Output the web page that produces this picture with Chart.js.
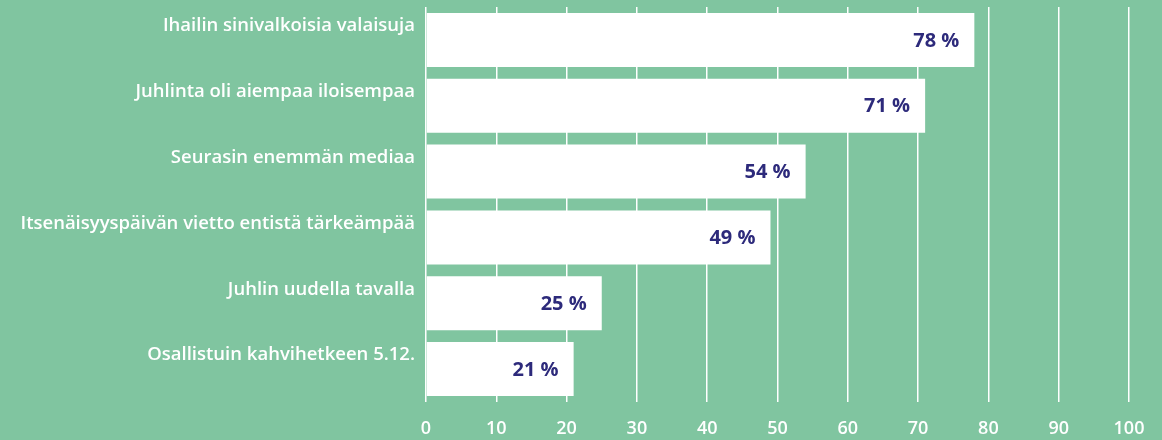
<!DOCTYPE html>
<html>
<head>
<meta charset="utf-8">
<script src="https://cdn.jsdelivr.net/npm/chart.js@4"></script>
<style>
html,body{margin:0;padding:0;background:#80c5a0;}
#wrap{width:1162px;height:440px;position:relative;}
</style>
</head>
<body>
<div id="wrap"><canvas id="c" width="1162" height="440"></canvas></div>
<script>
const categories = [
  "Ihailin sinivalkoisia valaisuja",
  "Juhlinta oli aiempaa iloisempaa",
  "Seurasin enemmän mediaa",
  "Itsenäisyyspäivän vietto entistä tärkeämpää",
  "Juhlin uudella tavalla",
  "Osallistuin kahvihetkeen 5.12."
];
const values = [78, 71, 54, 49, 25, 21];
const xTicks = [0, 10, 20, 30, 40, 50, 60, 70, 80, 90, 100];

const valueLabels = {
  id: 'valueLabels',
  afterDatasetsDraw(chart) {
    const ctx = chart.ctx;
    const meta = chart.getDatasetMeta(0);
    ctx.save();
    ctx.fillStyle = '#2d2a7b';
    ctx.font = '700 20px "Open Sans", sans-serif';
    ctx.textAlign = 'right';
    ctx.textBaseline = 'middle';
    meta.data.forEach((bar, i) => {
      ctx.fillText(values[i] + ' %', bar.x - 15, bar.y + 1);
    });
    ctx.restore();
  }
};

new Chart(document.getElementById('c'), {
  type: 'bar',
  data: {
    labels: categories,
    datasets: [{
      data: values,
      backgroundColor: '#ffffff',
      borderWidth: 0,
      categoryPercentage: 1,
      barPercentage: 0.82
    }]
  },
  options: {
    indexAxis: 'y',
    responsive: false,
    animation: false,
    devicePixelRatio: 1,
    layout: { padding: { top: 7, right: 33, left: 0, bottom: 0 } },
    plugins: { legend: { display: false }, tooltip: { enabled: false } },
    scales: {
      x: {
        min: 0, max: 100,
        afterBuildTicks(axis) { axis.ticks = xTicks.map(v => ({ value: v })); },
        afterFit(axis) { axis.height = 38; axis.paddingLeft = 0; axis.paddingRight = 0; },
        grid: { color: '#ffffff', lineWidth: 1.5, drawTicks: false },
        border: { display: false },
        ticks: {
          color: '#ffffff',
          padding: 16,
          font: { family: '"Open Sans", sans-serif', size: 18, weight: '600' }
        }
      },
      y: {
        afterFit(axis) { axis.width = 426; axis.paddingTop = 0; axis.paddingBottom = 0; },
        grid: { display: false, drawTicks: false },
        border: { display: false },
        ticks: {
          color: '#ffffff',
          padding: 11,
          labelOffset: -14,
          font: { family: '"Open Sans", sans-serif', size: 18.5, weight: '600' }
        }
      }
    }
  },
  plugins: [valueLabels]
});
</script>
</body>
</html>
